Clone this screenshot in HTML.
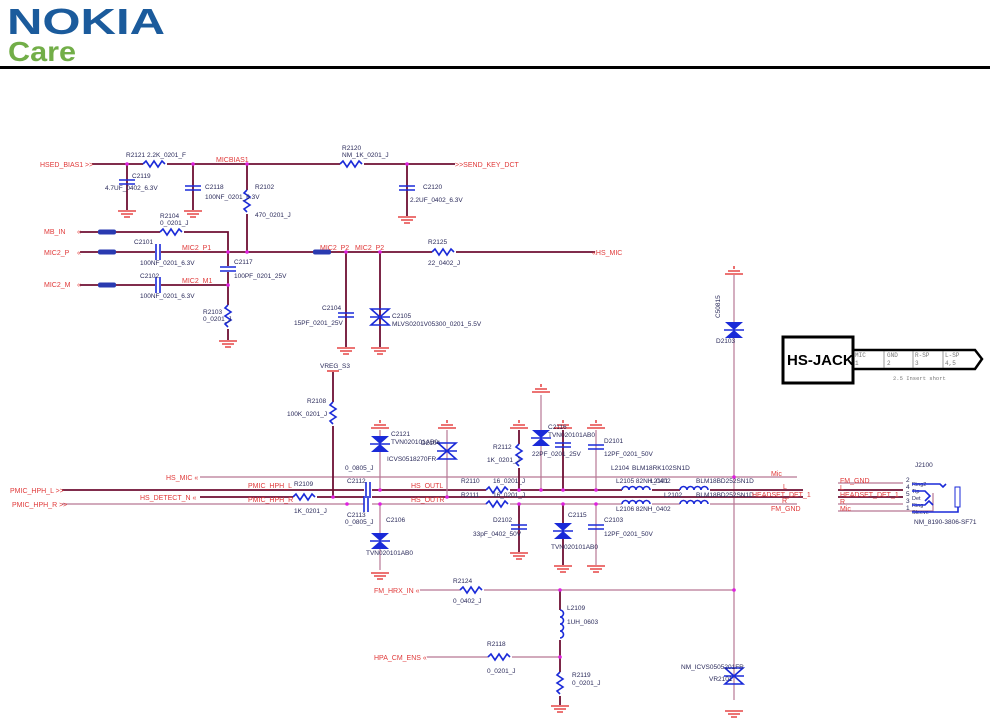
<!DOCTYPE html>
<html><head><meta charset="utf-8"><style>
body{margin:0;background:#fff;width:990px;height:725px;overflow:hidden}
svg{display:block}
text{font-family:"Liberation Sans",sans-serif}
.l{fill:#e03a3a;font-size:7px}
.d{fill:#2a2a5a;font-size:6.5px}
.w{stroke:#b77895;stroke-width:1.2;fill:none}
.b{stroke:#6e0f33;stroke-width:1.8;fill:none}
.c{stroke:#1a2ad8;stroke-width:1.6;fill:none}
.r{stroke:#e02020;stroke-width:1.3;fill:none}
.j{fill:#e020e0}
</style></head><body>
<svg width="990" height="725" viewBox="0 0 990 725">
<defs>
<g id="gnd"><path d="M-9 0H9M-6 3H6M-3 6H3" stroke="#e02020" stroke-width="1.3"/></g>
<g id="pwr"><path d="M-9 0H9M-6 -3H6M0 -5V-8" stroke="#e02020" stroke-width="1.3"/><path d="M-6 -3H6" stroke="#e02020"/></g>
<g id="rh"><path d="M0 0l3-3l4 6l4-6l4 6l4-6l3 3" class="c"/></g>
<g id="rv"><path d="M0 0l-3 3l6 4l-6 4l6 4l-6 4l3 3" class="c"/></g>
<g id="cv"><path d="M-8 -2H8M-8 2H8" class="c"/></g>
<g id="ch"><path d="M-2 -8V8M2 -8V8" class="c"/></g>
<g id="tvs"><path d="M-9 -8H9L0 0ZM-9 8H9L0 0Z" fill="#1a2ad8"/><path d="M-10 0H10" class="c"/></g>
<g id="xd"><path d="M-9 -8H9L-9 8H9Z" class="c"/><path d="M-10 0H10" class="c"/></g>
<g id="ind"><path d="M0 0a3.5 3.5 0 0 1 7 0a3.5 3.5 0 0 1 7 0a3.5 3.5 0 0 1 7 0a3.5 3.5 0 0 1 7 0" class="c"/></g>
<g id="fb"><rect x="0" y="-2.5" width="18" height="5" rx="2" fill="#2a3ab0"/></g>
</defs>
<!-- header -->
<text x="7" y="34" textLength="158" lengthAdjust="spacingAndGlyphs" style="font-family:'Liberation Sans';font-weight:bold;font-size:36px;fill:#1b5b9c">NOKIA</text>
<text x="8" y="61" textLength="68" lengthAdjust="spacingAndGlyphs" style="font-family:'Liberation Sans';font-weight:bold;font-size:28px;fill:#72ae48">Care</text>
<rect x="0" y="66" width="990" height="3" fill="#000"/>

<!-- top section -->
<path class="b" d="M92 164H455"/>
<text class="l" x="40" y="167">HSED_BIAS1</text><text class="l" x="85" y="167">&gt;&gt;</text>
<text class="l" x="455" y="167">&gt;&gt;SEND_KEY_DCT</text>
<rect x="143" y="162" width="24" height="4" fill="#fff"/><use href="#rh" x="143" y="164"/>
<text class="d" x="126" y="157">R2121 2.2K_0201_F</text>
<rect x="340" y="162" width="24" height="4" fill="#fff"/><use href="#rh" x="340" y="164"/>
<text class="d" x="342" y="150">R2120</text><text class="d" x="342" y="157">NM_1K_0201_J</text>
<text class="l" x="216" y="162">MICBIAS1</text>
<path class="b" d="M127 164V210M193 164V210M247 164V252M407 164V216"/>
<use href="#cv" x="127" y="182"/><use href="#cv" x="193" y="188"/><use href="#cv" x="407" y="188"/>
<use href="#gnd" x="127" y="211"/><use href="#gnd" x="193" y="211"/><use href="#gnd" x="407" y="217"/>
<rect x="244" y="190" width="6" height="24" fill="#fff"/><use href="#rv" x="247" y="190"/>
<text class="d" x="132" y="178">C2119</text><text class="d" x="105" y="190">4.7UF_0402_6.3V</text>
<text class="d" x="205" y="189">C2118</text><text class="d" x="205" y="199">100NF_0201_6.3V</text>
<text class="d" x="255" y="189">R2102</text><text class="d" x="255" y="217">470_0201_J</text>
<text class="d" x="423" y="189">C2120</text><text class="d" x="410" y="202">2.2UF_0402_6.3V</text>
<circle class="j" cx="127" cy="164" r="1.8"/><circle class="j" cx="193" cy="164" r="1.8"/><circle class="j" cx="247" cy="164" r="1.8"/><circle class="j" cx="407" cy="164" r="1.8"/>

<path class="b" d="M80 232H228V252M80 252H595M80 285H228M228 252V340"/>
<text class="l" x="44" y="234">MB_IN</text><text class="l" x="44" y="255">MIC2_P</text><text class="l" x="44" y="287">MIC2_M</text>
<text class="l" x="77" y="234">«</text><text class="l" x="77" y="255">«</text><text class="l" x="77" y="287">«</text>
<use href="#fb" x="98" y="232"/><use href="#fb" x="98" y="252"/><use href="#fb" x="98" y="285"/><use href="#fb" x="313" y="252"/>
<rect x="160" y="230" width="24" height="4" fill="#fff"/><use href="#rh" x="160" y="232"/>
<text class="d" x="160" y="218">R2104</text><text class="d" x="160" y="225">0_0201_J</text>
<rect x="155" y="249" width="6" height="6" fill="#fff"/><use href="#ch" x="158" y="252"/>
<rect x="155" y="282" width="6" height="6" fill="#fff"/><use href="#ch" x="158" y="285"/>
<text class="d" x="134" y="244">C2101</text><text class="d" x="140" y="265">100NF_0201_6.3V</text>
<text class="d" x="140" y="278">C2102</text><text class="d" x="140" y="298">100NF_0201_6.3V</text>
<text class="l" x="182" y="250">MIC2_P1</text><text class="l" x="182" y="283">MIC2_M1</text>
<rect x="222" y="266" width="12" height="6" fill="#fff"/><use href="#cv" x="228" y="269"/>
<text class="d" x="234" y="264">C2117</text><text class="d" x="234" y="278">100PF_0201_25V</text>
<rect x="225" y="305" width="6" height="24" fill="#fff"/><use href="#rv" x="228" y="305"/>
<text class="d" x="203" y="314">R2103</text><text class="d" x="203" y="321">0_0201_J</text>
<use href="#gnd" x="228" y="341"/>
<text class="l" x="320" y="250">MIC2_P2</text><text class="l" x="355" y="250">MIC2_P2</text>
<path class="b" d="M346 252V347M380 252V347"/>
<use href="#cv" x="346" y="315"/><use href="#xd" x="380" y="317"/>
<use href="#gnd" x="346" y="348"/><use href="#gnd" x="380" y="348"/>
<text class="d" x="322" y="310">C2104</text><text class="d" x="294" y="325">15PF_0201_25V</text>
<text class="d" x="392" y="318">C2105</text><text class="d" x="392" y="326">MLVS0201V05300_0201_5.5V</text>
<rect x="432" y="250" width="24" height="4" fill="#fff"/><use href="#rh" x="432" y="252"/>
<text class="d" x="428" y="244">R2125</text><text class="d" x="428" y="265">22_0402_J</text>
<text class="l" x="592" y="255">«HS_MIC</text>
<circle class="j" cx="228" cy="252" r="1.8"/><circle class="j" cx="247" cy="252" r="1.8"/><circle class="j" cx="228" cy="285" r="1.8"/><circle class="j" cx="346" cy="252" r="1.8"/><circle class="j" cx="380" cy="252" r="1.8"/>

<!-- D2103 / HS-JACK -->
<path class="w" d="M734 275V700"/>
<use href="#pwr" x="734" y="274"/>
<use href="#tvs" x="734" y="330"/>
<text class="d" transform="translate(720,318) rotate(-90)">C50815</text>
<text class="d" x="716" y="343">D2103</text>
<rect x="783" y="337" width="70" height="46" fill="#fff" stroke="#000" stroke-width="3"/>
<text x="787" y="365" style="font-weight:bold;font-size:15px;fill:#000">HS-JACK</text>
<path d="M853 350H975L982 359L975 369H853" fill="none" stroke="#000" stroke-width="2.5"/>
<path d="M884 351V368M913 351V368M943 351V368" stroke="#555" stroke-width="0.6"/>
<text style="font-family:'Liberation Mono';font-size:6px;fill:#777" x="855" y="357">MIC</text><text style="font-family:'Liberation Mono';font-size:6px;fill:#777" x="855" y="365">1</text>
<text style="font-family:'Liberation Mono';font-size:6px;fill:#777" x="887" y="357">GND</text><text style="font-family:'Liberation Mono';font-size:6px;fill:#777" x="887" y="365">2</text>
<text style="font-family:'Liberation Mono';font-size:6px;fill:#777" x="915" y="357">R-SP</text><text style="font-family:'Liberation Mono';font-size:6px;fill:#777" x="915" y="365">3</text>
<text style="font-family:'Liberation Mono';font-size:6px;fill:#777" x="945" y="357">L-SP</text><text style="font-family:'Liberation Mono';font-size:6px;fill:#777" x="945" y="365">4,5</text>
<text style="font-family:'Liberation Mono';font-size:5.5px;fill:#777" x="893" y="380">2.5 Insert short</text>

<!-- lower main bus -->
<path class="w" d="M200 477H797M62 504H797"/>
<path class="b" d="M62 490H803M200 497H803"/>
<text class="l" x="10" y="493">PMIC_HPH_L &gt;&gt;</text><text class="l" x="12" y="507">PMIC_HPH_R &gt;&gt;</text>
<text class="l" x="166" y="480">HS_MIC «</text><text class="l" x="140" y="500">HS_DETECT_N «</text>
<text class="l" x="248" y="488">PMIC_HPH_L</text><text class="l" x="248" y="502">PMIC_HPH_R</text>
<rect x="293" y="495" width="24" height="4" fill="#fff"/><use href="#rh" x="293" y="497"/>
<text class="d" x="294" y="486">R2109</text><text class="d" x="294" y="513">1K_0201_J</text>
<path class="b" d="M333 372V497"/><path d="M327 371H339" stroke="#e02020" stroke-width="1.3"/>
<text class="d" x="320" y="368">VREG_S3</text>
<rect x="330" y="402" width="6" height="24" fill="#fff"/><use href="#rv" x="333" y="402"/>
<text class="d" x="307" y="403">R2108</text><text class="d" x="287" y="416">100K_0201_J</text>
<rect x="364" y="485" width="8" height="25" fill="#fff"/><use href="#ch" x="368" y="490"/><use href="#ch" x="366" y="504"/>
<text class="d" x="347" y="483">C2112</text><text class="d" x="345" y="470">0_0805_J</text>
<text class="d" x="347" y="517">C2113</text><text class="d" x="345" y="524">0_0805_J</text>
<path class="w" d="M380 430V490M380 504V570M447 430V497"/>
<use href="#pwr" x="380" y="428"/><use href="#pwr" x="447" y="428"/>
<use href="#tvs" x="380" y="444"/><use href="#xd" x="447" y="451"/><use href="#tvs" x="380" y="541"/>
<use href="#gnd" x="380" y="573"/>
<text class="d" x="391" y="436">C2121</text><text class="d" x="391" y="444">TVN020101AB0</text><text class="d" x="387" y="461">ICVS0518270FR</text>
<text class="d" x="421" y="445">D2104</text>
<text class="d" x="386" y="522">C2106</text><text class="d" x="366" y="555">TVN020101AB0</text>
<text class="l" x="411" y="488">HS_OUTL</text><text class="l" x="411" y="502">HS_OUTR</text>
<circle class="j" cx="333" cy="497" r="1.8"/><circle class="j" cx="380" cy="490" r="1.8"/><circle class="j" cx="380" cy="504" r="1.8"/><circle class="j" cx="447" cy="497" r="1.8"/><circle class="j" cx="347" cy="504" r="1.8"/>
<rect x="486" y="488" width="24" height="4" fill="#fff"/><use href="#rh" x="486" y="490"/>
<rect x="486" y="502" width="24" height="4" fill="#fff"/><use href="#rh" x="486" y="504"/>
<text class="d" x="461" y="483">R2110</text><text class="d" x="493" y="483">16_0201_J</text>
<text class="d" x="461" y="497">R2111</text><text class="d" x="493" y="497">16_0201_J</text>
<path class="b" d="M519 430V490M563 430V490M563 504V565"/>
<path class="w" d="M541 395V490M596 430V490M519 504V518M596 504V565"/>
<use href="#pwr" x="519" y="428"/><use href="#pwr" x="541" y="392"/><use href="#pwr" x="563" y="428"/><use href="#pwr" x="596" y="428"/>
<rect x="516" y="444" width="6" height="24" fill="#fff"/><use href="#rv" x="519" y="444"/>
<use href="#tvs" x="541" y="438"/><use href="#cv" x="563" y="445"/><use href="#cv" x="596" y="447"/>
<text class="d" x="493" y="449">R2112</text><text class="d" x="487" y="462">1K_0201_J</text>
<text class="d" x="548" y="429">C2116</text><text class="d" x="548" y="437">TVN020101AB0</text><text class="d" x="532" y="456">22PF_0201_25V</text>
<text class="d" x="604" y="443">D2101</text><text class="d" x="604" y="456">12PF_0201_50V</text>
<path class="b" d="M519 504V552"/><use href="#cv" x="519" y="527"/><use href="#gnd" x="519" y="553"/>
<use href="#tvs" x="563" y="531"/><use href="#gnd" x="563" y="566"/>
<use href="#cv" x="596" y="527"/><use href="#gnd" x="596" y="566"/>
<text class="d" x="493" y="522">D2102</text><text class="d" x="473" y="536">33pF_0402_50V</text>
<text class="d" x="568" y="517">C2115</text><text class="d" x="551" y="549">TVN020101AB0</text>
<text class="d" x="604" y="522">C2103</text><text class="d" x="604" y="536">12PF_0201_50V</text>
<circle class="j" cx="519" cy="490" r="1.8"/><circle class="j" cx="541" cy="490" r="1.8"/><circle class="j" cx="563" cy="490" r="1.8"/><circle class="j" cx="596" cy="490" r="1.8"/><circle class="j" cx="519" cy="504" r="1.8"/><circle class="j" cx="563" cy="504" r="1.8"/><circle class="j" cx="596" cy="504" r="1.8"/>
<rect x="622" y="485" width="30" height="6" fill="#fff"/><use href="#ind" x="622" y="490"/>
<rect x="622" y="499" width="30" height="6" fill="#fff"/><use href="#ind" x="622" y="504"/>
<rect x="680" y="485" width="30" height="6" fill="#fff"/><use href="#ind" x="680" y="490"/>
<rect x="680" y="499" width="30" height="6" fill="#fff"/><use href="#ind" x="680" y="504"/>
<text class="d" x="611" y="470">L2104</text><text class="d" x="632" y="470">BLM18RK102SN1D</text>
<text class="d" x="616" y="483">L2105 82NH_0402</text><text class="d" x="650" y="483">L2101</text><text class="d" x="696" y="483">BLM18BD252SN1D</text>
<text class="d" x="664" y="497">L2102</text><text class="d" x="696" y="497">BLM18BD252SN1D</text>
<text class="d" x="616" y="511">L2106 82NH_0402</text>
<text class="l" x="771" y="476">Mic</text><text class="l" x="783" y="489">L</text>
<text class="l" x="752" y="497">HEADSET_DET_1</text><text class="l" x="782" y="503">R</text><text class="l" x="771" y="511">FM_GND</text>
<circle class="j" cx="734" cy="477" r="1.8"/>
<!-- J2100 -->
<path class="b" d="M838 490H903M838 497H903"/>
<path class="w" d="M838 483H903M838 504H903M838 511H933V493"/>
<text class="l" x="840" y="483">FM_GND</text><text class="l" x="840" y="490">L</text><text class="l" x="840" y="497">HEADSET_DET_1</text><text class="l" x="840" y="504">R</text><text class="l" x="840" y="511">Mic</text>
<text class="d" x="906" y="482">2</text><text class="d" x="906" y="489">4</text><text class="d" x="906" y="496">5</text><text class="d" x="906" y="503">3</text><text class="d" x="906" y="510">1</text>
<text class="d" x="912" y="486" style="font-size:5.5px">Ring2</text><text class="d" x="912" y="493" style="font-size:5.5px">Tip</text><text class="d" x="912" y="500" style="font-size:5.5px">Det</text><text class="d" x="912" y="507" style="font-size:5.5px">Ring</text><text class="d" x="912" y="514" style="font-size:5.5px">Sleeve</text>
<path class="c" d="M912 484H940l3 3l3-3M912 491H925l5 5l-5 5M912 505H925l4-4l4 4" stroke-width="1"/>
<rect x="955" y="487" width="5" height="20" fill="none" stroke="#1a2ad8"/>
<path class="c" d="M912 512H958V507" stroke-width="1"/>
<text class="d" x="915" y="467">J2100</text><text class="d" x="914" y="524">NM_8190-3806-SF71</text>
<!-- bottom -->
<path class="w" d="M420 590H734M427 657H560"/>
<path class="b" d="M560 590V705"/>
<text class="l" x="374" y="593">FM_HRX_IN «</text><text class="l" x="374" y="660">HPA_CM_ENS «</text>
<rect x="460" y="588" width="24" height="4" fill="#fff"/><use href="#rh" x="460" y="590"/>
<text class="d" x="453" y="583">R2124</text><text class="d" x="453" y="603">0_0402_J</text>
<rect x="555" y="610" width="10" height="30" fill="#fff"/><use href="#ind" transform="translate(560,610) rotate(90)"/>
<text class="d" x="567" y="610">L2109</text><text class="d" x="567" y="624">1UH_0603</text>
<rect x="488" y="655" width="24" height="4" fill="#fff"/><use href="#rh" x="488" y="657"/>
<text class="d" x="487" y="646">R2118</text><text class="d" x="487" y="673">0_0201_J</text>
<rect x="557" y="672" width="6" height="24" fill="#fff"/><use href="#rv" x="560" y="672"/>
<text class="d" x="572" y="677">R2119</text><text class="d" x="572" y="685">0_0201_J</text>
<use href="#gnd" x="560" y="706"/>
<use href="#xd" x="734" y="676"/><use href="#gnd" x="734" y="711"/>
<text class="d" x="681" y="669">NM_ICVS0505201FR</text><text class="d" x="709" y="681">VR2101</text>
<circle class="j" cx="560" cy="590" r="1.8"/><circle class="j" cx="560" cy="657" r="1.8"/><circle class="j" cx="734" cy="590" r="1.8"/>
</svg>
</body></html>
